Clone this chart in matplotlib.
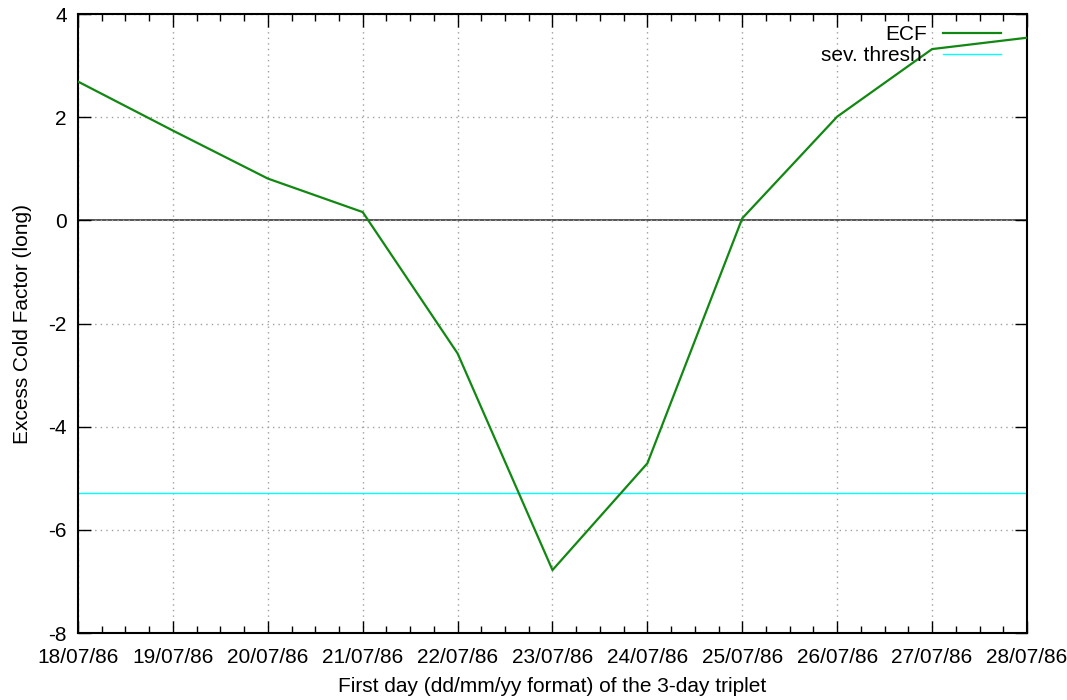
import numpy as np
import matplotlib
matplotlib.use("Agg")
from matplotlib import pyplot as plt
import matplotlib.dates as mdates
from datetime import datetime

# data
days = ["18/07/86", "19/07/86", "20/07/86", "21/07/86", "22/07/86", "23/07/86",
        "24/07/86", "25/07/86", "26/07/86", "27/07/86", "28/07/86"]
ecf = [2.69, 1.74, 0.81, 0.16, -2.58, -6.78, -4.71, 0.04, 2.01, 3.32, 3.54]
sev_thresh = -5.28

plt.rcParams['font.family'] = ['Liberation Sans', 'DejaVu Sans']
plt.rcParams['axes.unicode_minus'] = False

dates = [datetime.strptime(d, "%d/%m/%y") for d in days]

fig = plt.figure(figsize=(10.67, 7.0), dpi=100)
ax = fig.add_axes([0.0731, 0.0957, 0.8894, 0.8843])

ax.axhline(0, color='#555555', lw=1.4, zorder=1)
ax.axhline(sev_thresh, color='#00ffff', lw=1.0, label='sev. thresh.', zorder=2)
ax.plot(dates, ecf, color='#118811', lw=1.6, label='ECF', zorder=3)

ax.set_xlim(dates[0], dates[-1])
ax.set_ylim(-8, 4)
ax.set_yticks(np.arange(-8, 5, 2))
ax.xaxis.set_major_locator(mdates.DayLocator())
ax.xaxis.set_minor_locator(mdates.HourLocator(byhour=[6, 12, 18]))
ax.xaxis.set_major_formatter(mdates.DateFormatter('%d/%m/%y'))

ax.grid(True, which='major', color='#a0a0a0', linestyle=(0, (1, 3)), lw=1.0)
ax.tick_params(which='both', direction='in', top=True, right=True,
               labelsize=15, colors='black', width=1.0)
ax.tick_params(which='major', length=9)
ax.tick_params(which='minor', length=5)
ax.tick_params(axis='x', pad=11)
ax.tick_params(axis='y', pad=8)
for s in ax.spines.values():
    s.set_linewidth(1.5)

ax.set_xlabel('First day (dd/mm/yy format) of the 3-day triplet', fontsize=15, labelpad=7)
ax.set_ylabel('Excess Cold Factor (long)', fontsize=15, labelpad=12)

h, l = ax.get_legend_handles_labels()
ax.legend(h[::-1], l[::-1], loc='upper right', bbox_to_anchor=(0.9726, 0.982),
          frameon=False, markerfirst=False, fontsize=15, handlelength=2.8,
          labelspacing=0.1, borderpad=0, borderaxespad=0, handletextpad=0.75)

fig.savefig('out.png', dpi=100)
